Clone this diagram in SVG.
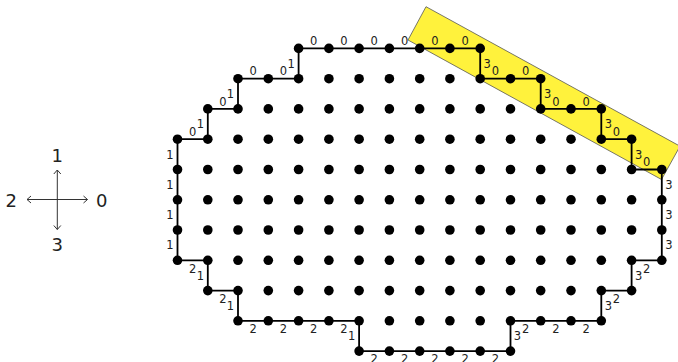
<svg xmlns="http://www.w3.org/2000/svg" width="678" height="362" viewBox="0 0 678 362">
<style>
.bg{fill:#ffffff}
.band{fill:#fff23c;stroke:#555555;stroke-width:0.8}
.edge{fill:none;stroke:#000000;stroke-width:1.8;stroke-linejoin:miter}
.dot{fill:#000000}
.lbl{font-family:"DejaVu Sans",sans-serif;font-size:11.5px;fill:#222222;text-anchor:middle}
.leg{font-family:"DejaVu Sans",sans-serif;font-size:18px;fill:#222222;text-anchor:middle}
.arr{fill:none;stroke:#333333;stroke-width:1}
</style>
<defs>
<marker id="ah" viewBox="-6 -5 8 10" refX="0" refY="0" markerWidth="8" markerHeight="10" markerUnits="userSpaceOnUse" orient="auto-start-reverse">
<path d="M-4,-3.5 L0,0 L-4,3.5" fill="none" stroke="#333333" stroke-width="1"/>
</marker>
</defs>
<rect class="bg" x="0" y="0" width="678" height="362"/>
<g id="highlight">
<polygon class="band" points="426,6.7 680,146.2 661.5,179.5 408,40"/>
</g>
<g id="legend">
<line class="arr" x1="27" y1="199.5" x2="87.5" y2="199.5" marker-start="url(#ah)" marker-end="url(#ah)"/>
<line class="arr" x1="57.3" y1="170" x2="57.3" y2="229.5" marker-start="url(#ah)" marker-end="url(#ah)"/>
<text class="leg" x="57.3" y="161.7">1</text>
<text class="leg" x="11.3" y="207.3">2</text>
<text class="leg" x="101.7" y="207.3">0</text>
<text class="leg" x="57.3" y="250.7">3</text>
</g>
<g id="connectors">
<path class="edge" d="M177.5,139.2 H207.8 V108.9 H238.0 V78.7 H298.6 V48.4 H480.2 V78.7 H540.7 V108.9 H601.3 V139.2 H631.6 V169.5 H661.8 V260.3 H631.6 V290.6 H601.3 V320.8 H510.5 V351.1 H359.1 V320.8 H238.0 V290.6 H207.8 V260.3 H177.5 Z"/>
</g>
<g id="edge-labels">
<text class="lbl" x="192.65" y="135.9">0</text>
<text class="lbl" x="222.9" y="105.6">0</text>
<text class="lbl" x="253.15" y="75.4">0</text>
<text class="lbl" x="283.45" y="75.4">0</text>
<text class="lbl" x="313.75" y="45.1">0</text>
<text class="lbl" x="344.0" y="45.1">0</text>
<text class="lbl" x="374.25" y="45.1">0</text>
<text class="lbl" x="404.55" y="45.1">0</text>
<text class="lbl" x="434.8" y="45.1">0</text>
<text class="lbl" x="465.05" y="45.1">0</text>
<text class="lbl" x="495.35" y="75.4">0</text>
<text class="lbl" x="525.6" y="75.4">0</text>
<text class="lbl" x="555.85" y="105.6">0</text>
<text class="lbl" x="586.15" y="105.6">0</text>
<text class="lbl" x="616.45" y="135.9">0</text>
<text class="lbl" x="646.7" y="166.2">0</text>
<text class="lbl" x="200.3" y="128.25">1</text>
<text class="lbl" x="230.5" y="98.0">1</text>
<text class="lbl" x="291.1" y="67.75">1</text>
<text class="lbl" x="170" y="158.55">1</text>
<text class="lbl" x="170" y="188.85">1</text>
<text class="lbl" x="170" y="219.1">1</text>
<text class="lbl" x="170" y="249.35">1</text>
<text class="lbl" x="200.3" y="279.65">1</text>
<text class="lbl" x="230.5" y="309.9">1</text>
<text class="lbl" x="351.6" y="340.15">1</text>
<text class="lbl" x="487.2" y="67.75">3</text>
<text class="lbl" x="547.7" y="98.0">3</text>
<text class="lbl" x="608.3" y="128.25">3</text>
<text class="lbl" x="638.6" y="158.55">3</text>
<text class="lbl" x="668.8" y="188.85">3</text>
<text class="lbl" x="668.8" y="219.1">3</text>
<text class="lbl" x="668.8" y="249.35">3</text>
<text class="lbl" x="638.6" y="279.65">3</text>
<text class="lbl" x="608.3" y="309.9">3</text>
<text class="lbl" x="517.5" y="340.15">3</text>
<text class="lbl" x="192.65" y="272.5">2</text>
<text class="lbl" x="646.7" y="272.5">2</text>
<text class="lbl" x="222.9" y="302.8">2</text>
<text class="lbl" x="616.45" y="302.8">2</text>
<text class="lbl" x="253.15" y="333.0">2</text>
<text class="lbl" x="283.45" y="333.0">2</text>
<text class="lbl" x="313.75" y="333.0">2</text>
<text class="lbl" x="344.0" y="333.0">2</text>
<text class="lbl" x="525.6" y="333.0">2</text>
<text class="lbl" x="555.85" y="333.0">2</text>
<text class="lbl" x="586.15" y="333.0">2</text>
<text class="lbl" x="374.25" y="363.3">2</text>
<text class="lbl" x="404.55" y="363.3">2</text>
<text class="lbl" x="434.8" y="363.3">2</text>
<text class="lbl" x="465.05" y="363.3">2</text>
<text class="lbl" x="495.35" y="363.3">2</text>
</g>
<g id="nodes">
<g id="n4-0"><circle class="dot" cx="298.6" cy="48.4" r="4.8"/></g>
<g id="n5-0"><circle class="dot" cx="328.9" cy="48.4" r="4.8"/></g>
<g id="n6-0"><circle class="dot" cx="359.1" cy="48.4" r="4.8"/></g>
<g id="n7-0"><circle class="dot" cx="389.4" cy="48.4" r="4.8"/></g>
<g id="n8-0"><circle class="dot" cx="419.7" cy="48.4" r="4.8"/></g>
<g id="n9-0"><circle class="dot" cx="449.9" cy="48.4" r="4.8"/></g>
<g id="n10-0"><circle class="dot" cx="480.2" cy="48.4" r="4.8"/></g>
<g id="n2-1"><circle class="dot" cx="238.0" cy="78.7" r="4.8"/></g>
<g id="n3-1"><circle class="dot" cx="268.3" cy="78.7" r="4.8"/></g>
<g id="n4-1"><circle class="dot" cx="298.6" cy="78.7" r="4.8"/></g>
<g id="n5-1"><circle class="dot" cx="328.9" cy="78.7" r="4.8"/></g>
<g id="n6-1"><circle class="dot" cx="359.1" cy="78.7" r="4.8"/></g>
<g id="n7-1"><circle class="dot" cx="389.4" cy="78.7" r="4.8"/></g>
<g id="n8-1"><circle class="dot" cx="419.7" cy="78.7" r="4.8"/></g>
<g id="n9-1"><circle class="dot" cx="449.9" cy="78.7" r="4.8"/></g>
<g id="n10-1"><circle class="dot" cx="480.2" cy="78.7" r="4.8"/></g>
<g id="n11-1"><circle class="dot" cx="510.5" cy="78.7" r="4.8"/></g>
<g id="n12-1"><circle class="dot" cx="540.7" cy="78.7" r="4.8"/></g>
<g id="n1-2"><circle class="dot" cx="207.8" cy="108.9" r="4.8"/></g>
<g id="n2-2"><circle class="dot" cx="238.0" cy="108.9" r="4.8"/></g>
<g id="n3-2"><circle class="dot" cx="268.3" cy="108.9" r="4.8"/></g>
<g id="n4-2"><circle class="dot" cx="298.6" cy="108.9" r="4.8"/></g>
<g id="n5-2"><circle class="dot" cx="328.9" cy="108.9" r="4.8"/></g>
<g id="n6-2"><circle class="dot" cx="359.1" cy="108.9" r="4.8"/></g>
<g id="n7-2"><circle class="dot" cx="389.4" cy="108.9" r="4.8"/></g>
<g id="n8-2"><circle class="dot" cx="419.7" cy="108.9" r="4.8"/></g>
<g id="n9-2"><circle class="dot" cx="449.9" cy="108.9" r="4.8"/></g>
<g id="n10-2"><circle class="dot" cx="480.2" cy="108.9" r="4.8"/></g>
<g id="n11-2"><circle class="dot" cx="510.5" cy="108.9" r="4.8"/></g>
<g id="n12-2"><circle class="dot" cx="540.7" cy="108.9" r="4.8"/></g>
<g id="n13-2"><circle class="dot" cx="571.0" cy="108.9" r="4.8"/></g>
<g id="n14-2"><circle class="dot" cx="601.3" cy="108.9" r="4.8"/></g>
<g id="n0-3"><circle class="dot" cx="177.5" cy="139.2" r="4.8"/></g>
<g id="n1-3"><circle class="dot" cx="207.8" cy="139.2" r="4.8"/></g>
<g id="n2-3"><circle class="dot" cx="238.0" cy="139.2" r="4.8"/></g>
<g id="n3-3"><circle class="dot" cx="268.3" cy="139.2" r="4.8"/></g>
<g id="n4-3"><circle class="dot" cx="298.6" cy="139.2" r="4.8"/></g>
<g id="n5-3"><circle class="dot" cx="328.9" cy="139.2" r="4.8"/></g>
<g id="n6-3"><circle class="dot" cx="359.1" cy="139.2" r="4.8"/></g>
<g id="n7-3"><circle class="dot" cx="389.4" cy="139.2" r="4.8"/></g>
<g id="n8-3"><circle class="dot" cx="419.7" cy="139.2" r="4.8"/></g>
<g id="n9-3"><circle class="dot" cx="449.9" cy="139.2" r="4.8"/></g>
<g id="n10-3"><circle class="dot" cx="480.2" cy="139.2" r="4.8"/></g>
<g id="n11-3"><circle class="dot" cx="510.5" cy="139.2" r="4.8"/></g>
<g id="n12-3"><circle class="dot" cx="540.7" cy="139.2" r="4.8"/></g>
<g id="n13-3"><circle class="dot" cx="571.0" cy="139.2" r="4.8"/></g>
<g id="n14-3"><circle class="dot" cx="601.3" cy="139.2" r="4.8"/></g>
<g id="n15-3"><circle class="dot" cx="631.6" cy="139.2" r="4.8"/></g>
<g id="n0-4"><circle class="dot" cx="177.5" cy="169.5" r="4.8"/></g>
<g id="n1-4"><circle class="dot" cx="207.8" cy="169.5" r="4.8"/></g>
<g id="n2-4"><circle class="dot" cx="238.0" cy="169.5" r="4.8"/></g>
<g id="n3-4"><circle class="dot" cx="268.3" cy="169.5" r="4.8"/></g>
<g id="n4-4"><circle class="dot" cx="298.6" cy="169.5" r="4.8"/></g>
<g id="n5-4"><circle class="dot" cx="328.9" cy="169.5" r="4.8"/></g>
<g id="n6-4"><circle class="dot" cx="359.1" cy="169.5" r="4.8"/></g>
<g id="n7-4"><circle class="dot" cx="389.4" cy="169.5" r="4.8"/></g>
<g id="n8-4"><circle class="dot" cx="419.7" cy="169.5" r="4.8"/></g>
<g id="n9-4"><circle class="dot" cx="449.9" cy="169.5" r="4.8"/></g>
<g id="n10-4"><circle class="dot" cx="480.2" cy="169.5" r="4.8"/></g>
<g id="n11-4"><circle class="dot" cx="510.5" cy="169.5" r="4.8"/></g>
<g id="n12-4"><circle class="dot" cx="540.7" cy="169.5" r="4.8"/></g>
<g id="n13-4"><circle class="dot" cx="571.0" cy="169.5" r="4.8"/></g>
<g id="n14-4"><circle class="dot" cx="601.3" cy="169.5" r="4.8"/></g>
<g id="n15-4"><circle class="dot" cx="631.6" cy="169.5" r="4.8"/></g>
<g id="n16-4"><circle class="dot" cx="661.8" cy="169.5" r="4.8"/></g>
<g id="n0-5"><circle class="dot" cx="177.5" cy="199.8" r="4.8"/></g>
<g id="n1-5"><circle class="dot" cx="207.8" cy="199.8" r="4.8"/></g>
<g id="n2-5"><circle class="dot" cx="238.0" cy="199.8" r="4.8"/></g>
<g id="n3-5"><circle class="dot" cx="268.3" cy="199.8" r="4.8"/></g>
<g id="n4-5"><circle class="dot" cx="298.6" cy="199.8" r="4.8"/></g>
<g id="n5-5"><circle class="dot" cx="328.9" cy="199.8" r="4.8"/></g>
<g id="n6-5"><circle class="dot" cx="359.1" cy="199.8" r="4.8"/></g>
<g id="n7-5"><circle class="dot" cx="389.4" cy="199.8" r="4.8"/></g>
<g id="n8-5"><circle class="dot" cx="419.7" cy="199.8" r="4.8"/></g>
<g id="n9-5"><circle class="dot" cx="449.9" cy="199.8" r="4.8"/></g>
<g id="n10-5"><circle class="dot" cx="480.2" cy="199.8" r="4.8"/></g>
<g id="n11-5"><circle class="dot" cx="510.5" cy="199.8" r="4.8"/></g>
<g id="n12-5"><circle class="dot" cx="540.7" cy="199.8" r="4.8"/></g>
<g id="n13-5"><circle class="dot" cx="571.0" cy="199.8" r="4.8"/></g>
<g id="n14-5"><circle class="dot" cx="601.3" cy="199.8" r="4.8"/></g>
<g id="n15-5"><circle class="dot" cx="631.6" cy="199.8" r="4.8"/></g>
<g id="n16-5"><circle class="dot" cx="661.8" cy="199.8" r="4.8"/></g>
<g id="n0-6"><circle class="dot" cx="177.5" cy="230.0" r="4.8"/></g>
<g id="n1-6"><circle class="dot" cx="207.8" cy="230.0" r="4.8"/></g>
<g id="n2-6"><circle class="dot" cx="238.0" cy="230.0" r="4.8"/></g>
<g id="n3-6"><circle class="dot" cx="268.3" cy="230.0" r="4.8"/></g>
<g id="n4-6"><circle class="dot" cx="298.6" cy="230.0" r="4.8"/></g>
<g id="n5-6"><circle class="dot" cx="328.9" cy="230.0" r="4.8"/></g>
<g id="n6-6"><circle class="dot" cx="359.1" cy="230.0" r="4.8"/></g>
<g id="n7-6"><circle class="dot" cx="389.4" cy="230.0" r="4.8"/></g>
<g id="n8-6"><circle class="dot" cx="419.7" cy="230.0" r="4.8"/></g>
<g id="n9-6"><circle class="dot" cx="449.9" cy="230.0" r="4.8"/></g>
<g id="n10-6"><circle class="dot" cx="480.2" cy="230.0" r="4.8"/></g>
<g id="n11-6"><circle class="dot" cx="510.5" cy="230.0" r="4.8"/></g>
<g id="n12-6"><circle class="dot" cx="540.7" cy="230.0" r="4.8"/></g>
<g id="n13-6"><circle class="dot" cx="571.0" cy="230.0" r="4.8"/></g>
<g id="n14-6"><circle class="dot" cx="601.3" cy="230.0" r="4.8"/></g>
<g id="n15-6"><circle class="dot" cx="631.6" cy="230.0" r="4.8"/></g>
<g id="n16-6"><circle class="dot" cx="661.8" cy="230.0" r="4.8"/></g>
<g id="n0-7"><circle class="dot" cx="177.5" cy="260.3" r="4.8"/></g>
<g id="n1-7"><circle class="dot" cx="207.8" cy="260.3" r="4.8"/></g>
<g id="n2-7"><circle class="dot" cx="238.0" cy="260.3" r="4.8"/></g>
<g id="n3-7"><circle class="dot" cx="268.3" cy="260.3" r="4.8"/></g>
<g id="n4-7"><circle class="dot" cx="298.6" cy="260.3" r="4.8"/></g>
<g id="n5-7"><circle class="dot" cx="328.9" cy="260.3" r="4.8"/></g>
<g id="n6-7"><circle class="dot" cx="359.1" cy="260.3" r="4.8"/></g>
<g id="n7-7"><circle class="dot" cx="389.4" cy="260.3" r="4.8"/></g>
<g id="n8-7"><circle class="dot" cx="419.7" cy="260.3" r="4.8"/></g>
<g id="n9-7"><circle class="dot" cx="449.9" cy="260.3" r="4.8"/></g>
<g id="n10-7"><circle class="dot" cx="480.2" cy="260.3" r="4.8"/></g>
<g id="n11-7"><circle class="dot" cx="510.5" cy="260.3" r="4.8"/></g>
<g id="n12-7"><circle class="dot" cx="540.7" cy="260.3" r="4.8"/></g>
<g id="n13-7"><circle class="dot" cx="571.0" cy="260.3" r="4.8"/></g>
<g id="n14-7"><circle class="dot" cx="601.3" cy="260.3" r="4.8"/></g>
<g id="n15-7"><circle class="dot" cx="631.6" cy="260.3" r="4.8"/></g>
<g id="n16-7"><circle class="dot" cx="661.8" cy="260.3" r="4.8"/></g>
<g id="n1-8"><circle class="dot" cx="207.8" cy="290.6" r="4.8"/></g>
<g id="n2-8"><circle class="dot" cx="238.0" cy="290.6" r="4.8"/></g>
<g id="n3-8"><circle class="dot" cx="268.3" cy="290.6" r="4.8"/></g>
<g id="n4-8"><circle class="dot" cx="298.6" cy="290.6" r="4.8"/></g>
<g id="n5-8"><circle class="dot" cx="328.9" cy="290.6" r="4.8"/></g>
<g id="n6-8"><circle class="dot" cx="359.1" cy="290.6" r="4.8"/></g>
<g id="n7-8"><circle class="dot" cx="389.4" cy="290.6" r="4.8"/></g>
<g id="n8-8"><circle class="dot" cx="419.7" cy="290.6" r="4.8"/></g>
<g id="n9-8"><circle class="dot" cx="449.9" cy="290.6" r="4.8"/></g>
<g id="n10-8"><circle class="dot" cx="480.2" cy="290.6" r="4.8"/></g>
<g id="n11-8"><circle class="dot" cx="510.5" cy="290.6" r="4.8"/></g>
<g id="n12-8"><circle class="dot" cx="540.7" cy="290.6" r="4.8"/></g>
<g id="n13-8"><circle class="dot" cx="571.0" cy="290.6" r="4.8"/></g>
<g id="n14-8"><circle class="dot" cx="601.3" cy="290.6" r="4.8"/></g>
<g id="n15-8"><circle class="dot" cx="631.6" cy="290.6" r="4.8"/></g>
<g id="n2-9"><circle class="dot" cx="238.0" cy="320.8" r="4.8"/></g>
<g id="n3-9"><circle class="dot" cx="268.3" cy="320.8" r="4.8"/></g>
<g id="n4-9"><circle class="dot" cx="298.6" cy="320.8" r="4.8"/></g>
<g id="n5-9"><circle class="dot" cx="328.9" cy="320.8" r="4.8"/></g>
<g id="n6-9"><circle class="dot" cx="359.1" cy="320.8" r="4.8"/></g>
<g id="n7-9"><circle class="dot" cx="389.4" cy="320.8" r="4.8"/></g>
<g id="n8-9"><circle class="dot" cx="419.7" cy="320.8" r="4.8"/></g>
<g id="n9-9"><circle class="dot" cx="449.9" cy="320.8" r="4.8"/></g>
<g id="n10-9"><circle class="dot" cx="480.2" cy="320.8" r="4.8"/></g>
<g id="n11-9"><circle class="dot" cx="510.5" cy="320.8" r="4.8"/></g>
<g id="n12-9"><circle class="dot" cx="540.7" cy="320.8" r="4.8"/></g>
<g id="n13-9"><circle class="dot" cx="571.0" cy="320.8" r="4.8"/></g>
<g id="n14-9"><circle class="dot" cx="601.3" cy="320.8" r="4.8"/></g>
<g id="n6-10"><circle class="dot" cx="359.1" cy="351.1" r="4.8"/></g>
<g id="n7-10"><circle class="dot" cx="389.4" cy="351.1" r="4.8"/></g>
<g id="n8-10"><circle class="dot" cx="419.7" cy="351.1" r="4.8"/></g>
<g id="n9-10"><circle class="dot" cx="449.9" cy="351.1" r="4.8"/></g>
<g id="n10-10"><circle class="dot" cx="480.2" cy="351.1" r="4.8"/></g>
<g id="n11-10"><circle class="dot" cx="510.5" cy="351.1" r="4.8"/></g>
</g>
</svg>
